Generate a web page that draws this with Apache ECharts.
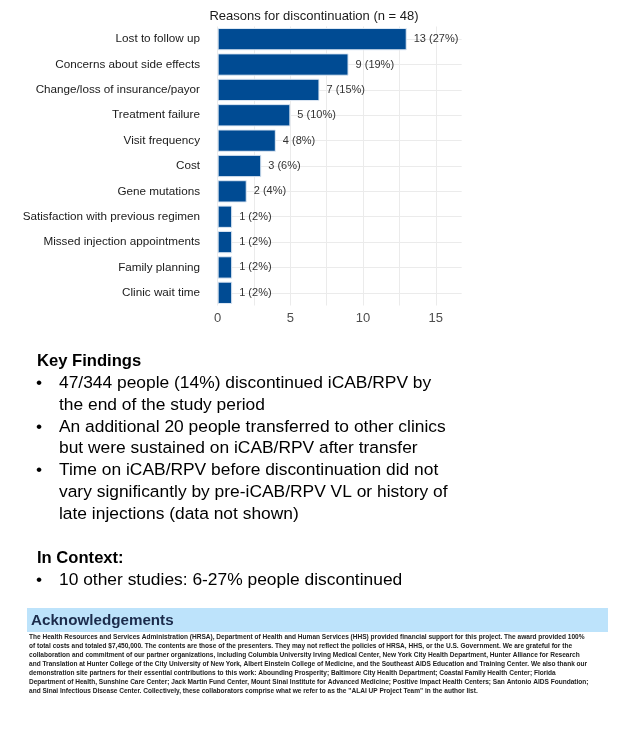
<!DOCTYPE html>
<html>
<head>
<meta charset="utf-8">
<script src="https://cdn.jsdelivr.net/npm/echarts@6/dist/echarts.min.js"></script>
<style>
  html, body { margin: 0; padding: 0; background: #fff; }
  #chart { width: 630px; height: 738px; }
</style>
</head>
<body>
<div id="chart"></div>
<script>
// data
const categories = [
  'Lost to follow up',
  'Concerns about side effects',
  'Change/loss of insurance/payor',
  'Treatment failure',
  'Visit frequency',
  'Cost',
  'Gene mutations',
  'Satisfaction with previous regimen',
  'Missed injection appointments',
  'Family planning',
  'Clinic wait time'
];
const counts = [13, 9, 7, 5, 4, 3, 2, 1, 1, 1, 1];
const percents = [27, 19, 15, 10, 8, 6, 4, 2, 2, 2, 2];
const xTickLabels = [0, 5, 10, 15];
const xGridValues = [0, 2.5, 5, 7.5, 10, 12.5, 15];

const keyFindings = [
  ['•', '47/344 people (14%) discontinued iCAB/RPV by'],
  ['', 'the end of the study period'],
  ['•', 'An additional 20 people transferred to other clinics'],
  ['', 'but were sustained on iCAB/RPV after transfer'],
  ['•', 'Time on iCAB/RPV before discontinuation did not'],
  ['', 'vary significantly by pre-iCAB/RPV VL or history of'],
  ['', 'late injections (data not shown)']
];
const inContext = [
  ['•', '10 other studies: 6-27% people discontinued']
];
const ackLines = [
  'The Health Resources and Services Administration (HRSA), Department of Health and Human Services (HHS) provided financial support for this project. The award provided 100%',
  'of total costs and totaled $7,450,000. The contents are those of the presenters. They may not reflect the policies of HRSA, HHS, or the U.S. Government. We are grateful for the',
  'collaboration and commitment of our partner organizations, including Columbia University Irving Medical Center, New York City Health Department, Hunter Alliance for Research',
  'and Translation at Hunter College of the City University of New York, Albert Einstein College of Medicine, and the Southeast AIDS Education and Training Center. We also thank our',
  'demonstration site partners for their essential contributions to this work: Abounding Prosperity; Baltimore City Health Department; Coastal Family Health Center; Florida',
  'Department of Health, Sunshine Care Center; Jack Martin Fund Center, Mount Sinai Institute for Advanced Medicine; Positive Impact Health Centers; San Antonio AIDS Foundation;',
  'and Sinai Infectious Disease Center. Collectively, these collaborators comprise what we refer to as the "ALAI UP Project Team" in the author list.'
];

const chart = echarts.init(document.getElementById('chart'));

const bodyFont = '17.4px "Liberation Sans", Arial, sans-serif';
const headFont = 'bold 16.6px "Liberation Sans", Arial, sans-serif';
const texts = [];
texts.push({type: 'text', x: 37, y: 361, style: {text: 'Key Findings', font: headFont, fill: '#000', textVerticalAlign: 'middle'}});
const findY = [383, 405, 427, 448, 470, 492, 514];
keyFindings.forEach((row, i) => {
  if (row[0]) texts.push({type: 'text', x: 36, y: findY[i], style: {text: row[0], font: bodyFont, fill: '#000', textVerticalAlign: 'middle'}});
  texts.push({type: 'text', x: 59, y: findY[i], style: {text: row[1], font: bodyFont, fill: '#000', textVerticalAlign: 'middle'}});
});
texts.push({type: 'text', x: 37, y: 558, style: {text: 'In Context:', font: headFont, fill: '#000', textVerticalAlign: 'middle'}});
inContext.forEach((row, i) => {
  texts.push({type: 'text', x: 36, y: 580 + i * 22, style: {text: row[0], font: bodyFont, fill: '#000', textVerticalAlign: 'middle'}});
  texts.push({type: 'text', x: 59, y: 580 + i * 22, style: {text: row[1], font: bodyFont, fill: '#000', textVerticalAlign: 'middle'}});
});
// acknowledgements box
texts.push({type: 'rect', shape: {x: 27, y: 608, width: 581, height: 24}, style: {fill: '#bde3fb'}});
texts.push({type: 'text', x: 31, y: 621, style: {text: 'Acknowledgements', font: 'bold 15.2px "Liberation Sans", Arial, sans-serif', fill: '#1b2b4b', textVerticalAlign: 'middle'}});
ackLines.forEach((line, i) => {
  texts.push({type: 'text', x: 29, y: 637 + i * 9, style: {text: line, font: 'bold 6.55px "Liberation Sans", Arial, sans-serif', fill: '#222', textVerticalAlign: 'middle'}});
});

chart.setOption({
  animation: false,
  backgroundColor: '#fff',
  title: {
    text: 'Reasons for discontinuation (n = 48)',
    left: 309,
    textAlign: 'center',
    top: 5,
    textStyle: {fontFamily: 'Liberation Sans', fontSize: 13, fontWeight: 'normal', color: '#1a1a1a'}
  },
  grid: {left: 206, right: 168, top: 26.5, height: 279, containLabel: false},
  xAxis: {
    type: 'value',
    min: -0.8,
    max: 16.8,
    axisLine: {show: false},
    axisTick: {show: false, customValues: xGridValues},
    axisLabel: {
      customValues: xTickLabels,
      margin: 6,
      fontFamily: 'Liberation Sans',
      fontSize: 13,
      color: '#4d4d4d'
    },
    splitLine: {show: true, lineStyle: {color: '#ebebeb', width: 1}}
  },
  yAxis: {
    type: 'category',
    data: categories,
    inverse: true,
    axisLine: {show: false},
    axisTick: {show: true, alignWithLabel: true, inside: true, length: 244, lineStyle: {color: '#ebebeb', width: 1}},
    axisLabel: {margin: 6, fontFamily: 'Liberation Sans', fontSize: 11.7, color: '#1a1a1a'},
    splitLine: {show: false}
  },
  series: [{
    type: 'bar',
    data: counts,
    barCategoryGap: '12%',
    itemStyle: {color: '#004b93', borderColor: '#dfe9f4', borderWidth: 1},
    label: {
      show: true,
      position: 'right',
      distance: 7,
      fontFamily: 'Liberation Sans',
      fontSize: 11,
      color: '#333',
      formatter: p => counts[p.dataIndex] + ' (' + percents[p.dataIndex] + '%)'
    }
  }],
  graphic: texts
});
</script>
</body>
</html>
